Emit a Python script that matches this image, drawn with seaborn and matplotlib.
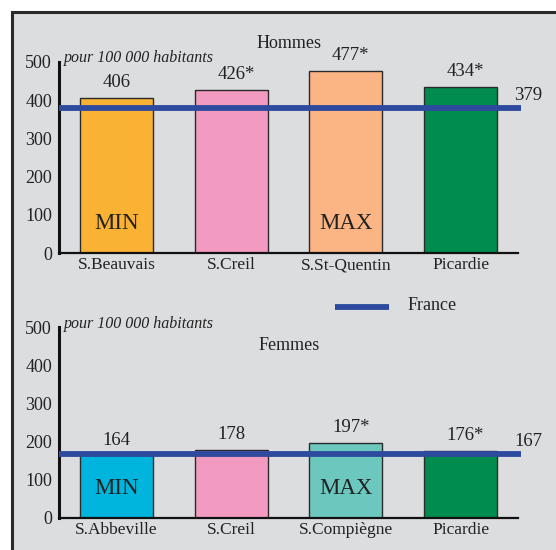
import matplotlib
matplotlib.use("Agg")
import matplotlib.pyplot as plt
import seaborn as sns
from matplotlib.patches import Rectangle
from matplotlib.lines import Line2D

sns.set_theme(style="white")
plt.rcParams['font.family'] = ['Liberation Serif', 'DejaVu Serif']

# ---- data ----
men_cats = ["S.Beauvais", "S.Creil", "S.St-Quentin", "Picardie"]
men_vals = [406, 426, 477, 434]
men_labels = ["406", "426*", "477*", "434*"]
men_colors = ["#F9B233", "#F39AC1", "#FBB584", "#008C4F"]
men_france = 379
men_tags = ["MIN", "", "MAX", ""]

women_cats = ["S.Abbeville", "S.Creil", "S.Compiègne", "Picardie"]
women_vals = [164, 178, 197, 176]
women_labels = ["164", "178", "197*", "176*"]
women_colors = ["#00B5DD", "#F39AC1", "#6CC8BE", "#008C4F"]
women_france = 167
women_tags = ["MIN", "", "MAX", ""]

yticks = [0, 100, 200, 300, 400, 500]

W, H = 556, 550
fig = plt.figure(figsize=(W / 100, H / 100), dpi=100)
fig.patch.set_facecolor("white")

bg = "#DCDDDF"
fig.patches.append(Rectangle((12 / W, -0.2), 1.5, (H - 12) / H + 0.2,
                             transform=fig.transFigure, facecolor=bg,
                             edgecolor="#2a2a2a", linewidth=2.2, zorder=-10))

def px_axes(left, top, right, bottom):
    ax = fig.add_axes([left / W, 1 - bottom / H, (right - left) / W, (bottom - top) / H])
    ax.set_zorder(2)
    return ax

blue = "#2E4A9E"
txt = "#222222"

def panel(ax, cats, vals, labels, colors, france, tags, title, title_y, sub_y):
    ax.set_facecolor("none")
    ax.patch.set_alpha(0)
    sns.barplot(x=cats, y=vals, hue=cats, palette=colors, width=0.636, saturation=1,
                edgecolor="#2a2a2a", linewidth=1.0, legend=False, ax=ax, zorder=2)
    ax.set_xlim(-0.5, 3.5)
    ax.set_ylim(0, 500)
    ax.set_yticks(yticks)
    ax.set_yticklabels([str(t) for t in yticks], fontsize=13, color=txt)
    ax.tick_params(axis="both", length=0, pad=5)
    ax.tick_params(axis="x", pad=3)
    for lab in ax.get_xticklabels():
        lab.set_fontsize(12.5)
        lab.set_color(txt)
    ax.set_xlabel("")
    ax.set_ylabel("")
    for s in ["top", "right"]:
        ax.spines[s].set_visible(False)
    ax.spines["left"].set_linewidth(2.2)
    ax.spines["left"].set_color("#111111")
    ax.spines["bottom"].set_linewidth(1.6)
    ax.spines["bottom"].set_color("#111111")
    # France line
    ax.plot([-0.5, 3.53], [france, france], color=blue, linewidth=4.2,
            solid_capstyle="butt", clip_on=False, zorder=4)
    ax.annotate(str(france), xy=(3.53, france), xytext=(5, 9), textcoords="offset points",
                ha="center", va="center", fontsize=13.5, color=txt, annotation_clip=False)
    for i, (v, l) in enumerate(zip(vals, labels)):
        dx = 3.5 if l.endswith("*") else 0
        ax.annotate(l, xy=(i, v), xytext=(dx, 11), textcoords="offset points",
                    ha="center", va="center", fontsize=13.5, color=txt, annotation_clip=False)
    for i, t in enumerate(tags):
        if t:
            ax.annotate(t, xy=(i, 0), xytext=(0, 21), textcoords="offset points",
                        ha="center", va="center", fontsize=16.5, color=txt, zorder=5)
    fig.text(64 / W, 1 - sub_y / H, "pour 100 000 habitants", fontsize=11.5,
             style="italic", color=txt, ha="left", va="center")
    fig.text(289 / W, 1 - title_y / H, title, fontsize=13, color=txt, ha="center", va="center")

ax1 = px_axes(59, 62, 518, 253)
panel(ax1, men_cats, men_vals, men_labels, men_colors, men_france, men_tags, "Hommes", 44, 58)
ax2 = px_axes(59, 327, 518, 518)
panel(ax2, women_cats, women_vals, women_labels, women_colors, women_france, women_tags, "Femmes", 345, 324)

# legend
fig.lines.append(Line2D([335 / W, 389 / W], [1 - 307 / H, 1 - 307 / H], transform=fig.transFigure,
                        color=blue, linewidth=4.2, solid_capstyle="butt"))
fig.text(408 / W, 1 - 305 / H, "France", fontsize=13, color=txt, ha="left", va="center")

fig.savefig("out.png", dpi=100)
